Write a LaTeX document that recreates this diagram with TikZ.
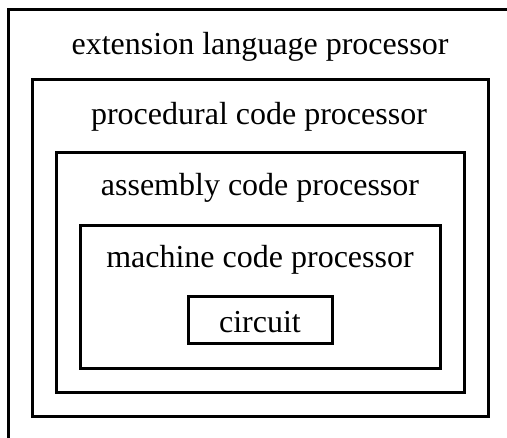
\documentclass[tikz,border=0pt]{standalone}
\usepackage{fontspec}
\setmainfont{Liberation Serif}
\begin{document}
\begin{tikzpicture}[x=1pt,y=-1pt,line width=3pt,
	layer/.style={rectangle, draw, inner sep=0pt, outer sep=0pt},
	title/.style={font=\fontsize{32}{38}\selectfont, inner sep=0pt}]
	\useasboundingbox (0,0) rectangle (507,438);
	\clip (0,0) rectangle (507,438);
	\node (ext)  at (260, 227.5)	[layer, minimum width=504pt, minimum height=435pt]	{};
	\node (proc) at (260, 248.5)	[layer, minimum width=456pt, minimum height=337pt]	{};
	\node (asm)  at (260, 273)	[layer, minimum width=408pt, minimum height=240pt]	{};
	\node (mach) at (260, 297.5)	[layer, minimum width=360pt, minimum height=143pt]	{};
	\node (circ) at (260, 320.5)	[layer, minimum width=144pt, minimum height=47pt]	{};
	\node (extT)  at (260, 46.5)	[title]	{extension language processor};
	\node (procT) at (259, 116.5)	[title]	{procedural code processor};
	\node (asmT)  at (260, 187.5)	[title]	{assembly code processor};
	\node (machT) at (260, 259.5)	[title]	{machine code processor};
	\node (circT) at ([yshift=-1.5pt]circ)	[title]	{circuit};
\end{tikzpicture}
\end{document}
